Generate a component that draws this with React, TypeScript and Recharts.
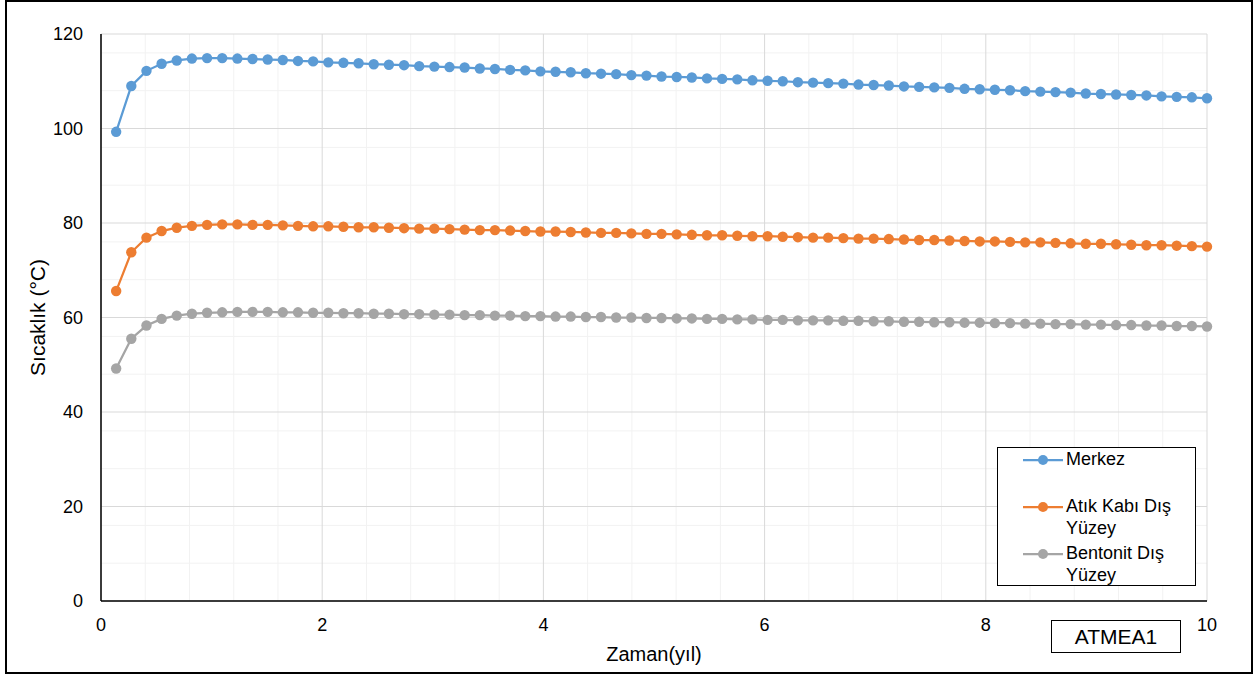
import {
  LineChart,
  Line,
  XAxis,
  YAxis,
  CartesianGrid,
  Legend,
  Label,
} from "recharts";

// time in years (one point every 50 days)
const years = [
  0.137, 0.274, 0.411, 0.548, 0.685, 0.822, 0.959, 1.096, 1.233, 1.37, 1.507,
  1.644, 1.781, 1.918, 2.055, 2.192, 2.329, 2.466, 2.603, 2.74, 2.877, 3.014,
  3.151, 3.288, 3.425, 3.562, 3.699, 3.836, 3.973, 4.11, 4.247, 4.384, 4.521,
  4.658, 4.795, 4.932, 5.068, 5.205, 5.342, 5.479, 5.616, 5.753, 5.89, 6.027,
  6.164, 6.301, 6.438, 6.575, 6.712, 6.849, 6.986, 7.123, 7.26, 7.397, 7.534,
  7.671, 7.808, 7.945, 8.082, 8.219, 8.356, 8.493, 8.63, 8.767, 8.904, 9.041,
  9.178, 9.315, 9.452, 9.589, 9.726, 9.863, 10.0,
];

const merkez = [
  99.3, 109.0, 112.2, 113.7, 114.4, 114.8, 114.9, 114.9, 114.8, 114.7, 114.6,
  114.5, 114.3, 114.2, 114.0, 113.9, 113.8, 113.6, 113.5, 113.4, 113.2, 113.1,
  113.0, 112.9, 112.7, 112.6, 112.4, 112.3, 112.1, 112.0, 111.9, 111.7, 111.6,
  111.5, 111.3, 111.2, 111.0, 110.9, 110.8, 110.6, 110.5, 110.4, 110.2, 110.1,
  110.0, 109.8, 109.7, 109.6, 109.5, 109.3, 109.2, 109.1, 108.9, 108.8, 108.7,
  108.6, 108.4, 108.3, 108.2, 108.1, 107.9, 107.8, 107.7, 107.6, 107.4, 107.3,
  107.2, 107.1, 107.0, 106.8, 106.7, 106.6, 106.4,
];

const atikKabi = [
  65.6, 73.8, 76.9, 78.3, 79.0, 79.4, 79.6, 79.7, 79.7, 79.6, 79.6, 79.5, 79.4,
  79.3, 79.3, 79.2, 79.1, 79.1, 79.0, 78.9, 78.8, 78.8, 78.7, 78.6, 78.5, 78.5,
  78.4, 78.3, 78.2, 78.2, 78.1, 78.0, 77.9, 77.9, 77.8, 77.7, 77.7, 77.6, 77.5,
  77.4, 77.4, 77.3, 77.2, 77.2, 77.1, 77.0, 76.9, 76.9, 76.8, 76.7, 76.7, 76.6,
  76.5, 76.4, 76.4, 76.3, 76.2, 76.1, 76.1, 76.0, 75.9, 75.9, 75.8, 75.7, 75.6,
  75.6, 75.5, 75.4, 75.3, 75.3, 75.2, 75.1, 75.0,
];

const bentonit = [
  49.2, 55.5, 58.3, 59.7, 60.4, 60.8, 61.0, 61.1, 61.2, 61.2, 61.2, 61.1, 61.1,
  61.0, 61.0, 60.9, 60.9, 60.8, 60.8, 60.7, 60.7, 60.6, 60.6, 60.5, 60.5, 60.4,
  60.4, 60.3, 60.3, 60.2, 60.2, 60.1, 60.1, 60.0, 60.0, 59.9, 59.9, 59.8, 59.8,
  59.7, 59.7, 59.6, 59.6, 59.5, 59.5, 59.4, 59.4, 59.4, 59.3, 59.3, 59.2, 59.2,
  59.1, 59.1, 59.0, 59.0, 58.9, 58.9, 58.8, 58.8, 58.7, 58.7, 58.6, 58.6, 58.5,
  58.5, 58.4, 58.4, 58.3, 58.3, 58.2, 58.2, 58.1,
];

const xTicks = [0, 2, 4, 6, 8, 10];
const yTicks = [0, 20, 40, 60, 80, 100, 120];
const xMinor = [
  0.4, 0.8, 1.2, 1.6, 2.4, 2.8, 3.2, 3.6, 4.4, 4.8, 5.2, 5.6, 6.4, 6.8, 7.2,
  7.6, 8.4, 8.8, 9.2, 9.6,
];
const yMinor = [
  4, 8, 12, 16, 24, 28, 32, 36, 44, 48, 52, 56, 64, 68, 72, 76, 84, 88, 92, 96,
  104, 108, 112, 116,
];

const data = years.map((t, i) => ({
  t,
  merkez: merkez[i],
  atik: atikKabi[i],
  bentonit: bentonit[i],
}));

const series = [
  { key: "merkez", name: "Merkez", color: "#5B9BD5" },
  { key: "atik", name: "Atık Kabı Dış Yüzey", color: "#ED7D31" },
  { key: "bentonit", name: "Bentonit Dış Yüzey", color: "#A5A5A5" },
];

const font = "'Liberation Sans', Arial, sans-serif";

function LegendBox() {
  return (
    <div
      style={{
        width: 199,
        height: 139,
        boxSizing: "border-box",
        border: "1.5px solid #000",
        background: "#fff",
        paddingTop: 1,
        fontFamily: font,
        fontSize: 18,
        lineHeight: "21.5px",
        color: "#000",
        textAlign: "left",
      }}
    >
      {series.map((s) => (
        <div
          key={s.key}
          style={{ display: "flex", alignItems: "flex-start", height: 47 }}
        >
          <svg width={40} height={22} style={{ marginLeft: 25, flex: "none" }}>
            <line x1={0} y1={11} x2={40} y2={11} stroke={s.color} strokeWidth={2.25} />
            <circle cx={20} cy={11} r={5} fill={s.color} />
          </svg>
          <div style={{ width: 122, marginLeft: 3 }}>{s.name}</div>
        </div>
      ))}
    </div>
  );
}

export default function App() {
  return (
    <div
      style={{
        position: "absolute",
        left: 0,
        top: 0,
        width: 1257,
        height: 676,
        background: "#fff",
        fontFamily: font,
      }}
    >
      <div
        style={{
          position: "absolute",
          left: 5,
          top: 0,
          width: 1248,
          height: 674,
          boxSizing: "border-box",
          border: "2px solid #000",
        }}
      />
      <LineChart
        width={1257}
        height={676}
        data={data}
        margin={{ top: 34, right: 50, bottom: 0, left: 0 }}
      >
        <CartesianGrid
          stroke="#F2F2F2"
          strokeWidth={1}
          verticalValues={xMinor}
          horizontalValues={yMinor}
        />
        <CartesianGrid stroke="#D9D9D9" strokeWidth={1} />
        <XAxis
          dataKey="t"
          type="number"
          domain={[0, 10]}
          ticks={xTicks}
          height={75}
          axisLine={{ stroke: "#000", strokeWidth: 1.5 }}
          tickLine={false}
          tickMargin={11}
          tick={{ fontSize: 18, fill: "#000" }}
        >
          <Label
            value="Zaman(yıl)"
            position="insideBottom"
            offset={15}
            style={{ fontSize: 20, fill: "#000" }}
          />
        </XAxis>
        <YAxis
          type="number"
          domain={[0, 120]}
          ticks={yTicks}
          width={101}
          axisLine={{ stroke: "#000", strokeWidth: 1.5 }}
          tickLine={false}
          tickMargin={12}
          tick={{ fontSize: 18, fill: "#000" }}
        >
          <Label
            value="Sıcaklık (°C)"
            angle={-90}
            position="insideLeft"
            offset={38}
            style={{ fontSize: 21, fill: "#000", textAnchor: "middle" }}
          />
        </YAxis>
        <Legend
          layout="horizontal"
          verticalAlign="middle"
          align="center"
          content={() => <LegendBox />}
          wrapperStyle={{ position: "absolute", left: 997, top: 447, width: 199, height: 139 }}
        />
        {series.map((s) => (
          <Line
            key={s.key}
            dataKey={s.key}
            name={s.name}
            type="linear"
            stroke={s.color}
            strokeWidth={2.25}
            dot={{ r: 5.2, fill: s.color, stroke: s.color, strokeWidth: 0 }}
            activeDot={false}
            isAnimationActive={false}
          />
        ))}
      </LineChart>
      <div
        style={{
          position: "absolute",
          left: 1051,
          top: 620,
          width: 130,
          height: 33,
          boxSizing: "border-box",
          border: "1.5px solid #000",
          display: "flex",
          alignItems: "center",
          justifyContent: "center",
          fontSize: 21,
          color: "#000",
          background: "#fff",
        }}
      >
        ATMEA1
      </div>
    </div>
  );
}
